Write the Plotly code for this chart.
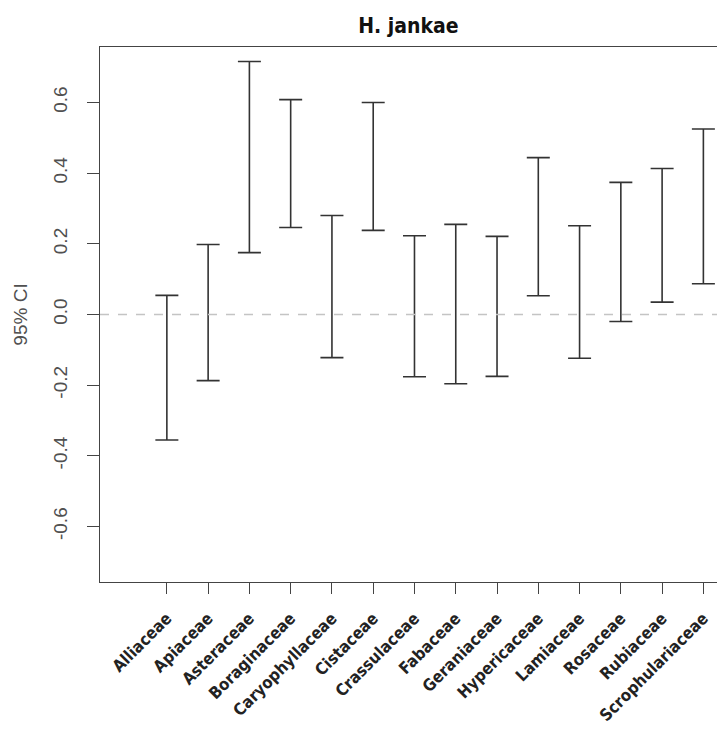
import plotly.graph_objects as go

families = ["Alliaceae", "Apiaceae", "Asteraceae", "Boraginaceae", "Caryophyllaceae",
            "Cistaceae", "Crassulaceae", "Fabaceae", "Geraniaceae", "Hypericaceae",
            "Lamiaceae", "Rosaceae", "Rubiaceae", "Scrophulariaceae"]
ci_low = [-0.355, -0.187, 0.175, 0.246, -0.122, 0.238, -0.176, -0.196, -0.175,
          0.053, -0.124, -0.020, 0.035, 0.087]
ci_high = [0.054, 0.198, 0.716, 0.608, 0.280, 0.600, 0.223, 0.255, 0.221,
           0.444, 0.251, 0.374, 0.413, 0.525]
y_ticks = [-0.6, -0.4, -0.2, 0.0, 0.2, 0.4, 0.6]

xs = list(range(len(families)))
mid = [(lo + hi) / 2 for lo, hi in zip(ci_low, ci_high)]
half = [(hi - lo) / 2 for lo, hi in zip(ci_low, ci_high)]

fig = go.Figure()
fig.add_trace(go.Scatter(
    x=xs, y=mid, mode="markers",
    marker=dict(size=1, opacity=0),
    error_y=dict(type="data", array=half, symmetric=True,
                 color="#333333", thickness=1.6, width=11.5),
    showlegend=False, hoverinfo="skip"))

fig.add_hline(y=0, line=dict(color="#c4c4c4", width=1.3, dash="dash"))

axis_font = dict(family="Liberation Sans, Arial, sans-serif", size=19, color="#505050")

fig.update_layout(
    width=717, height=729,
    margin=dict(l=100, r=0, t=47, b=147),
    paper_bgcolor="white", plot_bgcolor="white",
    title=dict(text="<b>H. jankae</b>", x=0.5, xref="paper", xanchor="center",
               y=1 - 26 / 729, yanchor="middle",
               font=dict(family="DejaVu Sans Condensed, Liberation Sans, sans-serif",
                         size=21, color="#111111")),
    xaxis=dict(range=[-1.62, 13.33], tickmode="array", tickvals=xs, ticktext=families,
               tickangle=-45, ticks="outside", ticklen=11, tickcolor="#444444",
               ticklabelstandoff=8,
               showline=True, linecolor="#444444", linewidth=1.3, mirror=True,
               showgrid=False, zeroline=False,
               tickfont=dict(family="DejaVu Sans Condensed, DejaVu Sans, sans-serif", size=16.5,
                             color="#222222", weight="bold")),
    yaxis=dict(range=[-0.757, 0.757], tickmode="array", tickvals=y_ticks,
               ticktext=[f"{v:.1f}" for v in y_ticks],
               tickangle=-90, ticks="outside", ticklen=12, tickcolor="#444444",
               ticklabelstandoff=12,
               showline=True, linecolor="#444444", linewidth=1.3, mirror=False,
               showgrid=False, zeroline=False, tickfont=axis_font,
               title=dict(text="95% CI", font=dict(family="Liberation Sans, Arial, sans-serif",
                                                  size=19, color="#505050"), standoff=17)),
)

fig.write_html("out.html")
